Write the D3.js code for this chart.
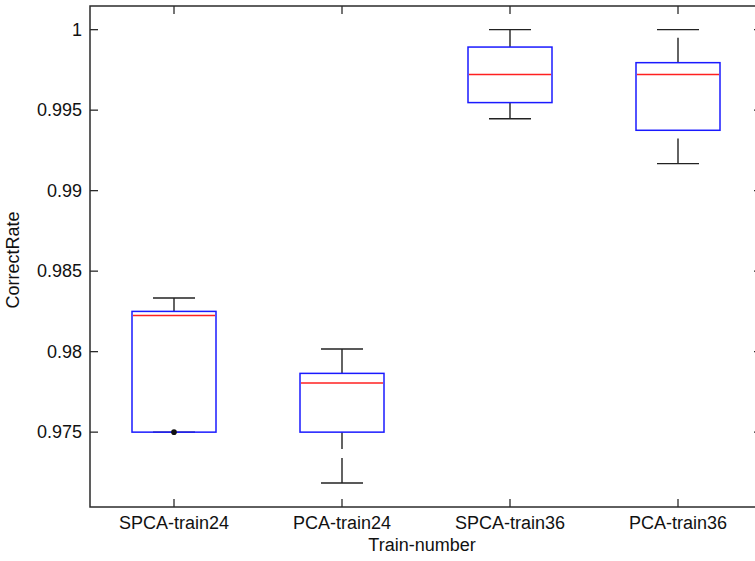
<!DOCTYPE html>
<html>
<head>
<meta charset="utf-8">
<script src="https://cdn.jsdelivr.net/npm/d3@7/dist/d3.min.js"></script>
<style>
  body { margin: 0; background: #fff; }
  svg { display: block; font-family: "Liberation Sans", Arial, sans-serif; }
</style>
</head>
<body>
<svg id="chart" width="755" height="561"></svg>
<script>
// data
var categories = ["SPCA-train24", "PCA-train24", "SPCA-train36", "PCA-train36"];
var whiskerLow = [0.975, 0.97184, 0.99447, 0.99168];
var q1 = [0.975, 0.975, 0.99547, 0.99375];
var medians = [0.98225, 0.97805, 0.99722, 0.99722];
var q3 = [0.9825, 0.97865, 0.99892, 0.99795];
var whiskerHigh = [0.98333, 0.98016, 1.0, 1.0];
var dots = [[0.975], [], [], []];
var yTicks = [0.975, 0.98, 0.985, 0.99, 0.995, 1];
var yTickLabels = ["0.975", "0.98", "0.985", "0.99", "0.995", "1"];

var svg = d3.select("#chart");

// plot frame (right edge runs off the picture)
var plotLeft = 90, plotTop = 6, plotRight = 762, plotBottom = 507;
var axisColor = "#2b2b2b";

var x = d3.scaleLinear().domain([0.5, categories.length + 0.5]).range([plotLeft, plotRight]);
var y = d3.scaleLinear().domain([0.97035, 1.00147]).range([plotBottom, plotTop]);

var boxHalf = 0.25, capHalf = 0.125;

var rows = categories.map(function(c, i) {
    return {name: c, i: i + 1, lo: whiskerLow[i], q1: q1[i], med: medians[i], q3: q3[i], hi: whiskerHigh[i], dots: dots[i]};
});

var g = svg.append("g");

// whiskers, dashed, drawn from low value to high value
rows.forEach(function(d) {
    [[d.lo, d.q1], [d.q3, d.hi]].forEach(function(seg) {
        g.append("line")
            .attr("x1", x(d.i)).attr("x2", x(d.i))
            .attr("y1", y(seg[0])).attr("y2", y(seg[1]))
            .attr("stroke", "#222").attr("stroke-width", 1.4)
            .attr("stroke-dasharray", "25,9");
    });
    // caps
    [d.lo, d.hi].forEach(function(v) {
        g.append("line")
            .attr("x1", x(d.i - capHalf)).attr("x2", x(d.i + capHalf))
            .attr("y1", y(v)).attr("y2", y(v))
            .attr("stroke", "#222").attr("stroke-width", 1.4);
    });
});

// boxes
g.selectAll("rect.box").data(rows).enter().append("rect")
    .attr("class", "box")
    .attr("x", function(d) { return x(d.i - boxHalf); })
    .attr("width", function(d) { return x(d.i + boxHalf) - x(d.i - boxHalf); })
    .attr("y", function(d) { return y(d.q3); })
    .attr("height", function(d) { return y(d.q1) - y(d.q3); })
    .attr("fill", "none")
    .attr("stroke", "#1a1aff").attr("stroke-width", 1.5);

// medians
g.selectAll("line.med").data(rows).enter().append("line")
    .attr("class", "med")
    .attr("x1", function(d) { return x(d.i - boxHalf) + 1; })
    .attr("x2", function(d) { return x(d.i + boxHalf) - 1; })
    .attr("y1", function(d) { return y(d.med); })
    .attr("y2", function(d) { return y(d.med); })
    .attr("stroke", "#ff2020").attr("stroke-width", 1.5);

// dot markers
rows.forEach(function(d) {
    d.dots.forEach(function(v) {
        g.append("circle")
            .attr("cx", x(d.i)).attr("cy", y(v)).attr("r", 2.8)
            .attr("fill", "#111");
    });
});

// frame
svg.append("rect")
    .attr("x", plotLeft).attr("y", plotTop)
    .attr("width", plotRight - plotLeft).attr("height", plotBottom - plotTop)
    .attr("fill", "none").attr("stroke", axisColor).attr("stroke-width", 1.5);

// inward ticks on all sides
var tickLen = 8;
yTicks.forEach(function(v) {
    svg.append("line").attr("x1", plotLeft).attr("x2", plotLeft + tickLen)
        .attr("y1", y(v)).attr("y2", y(v))
        .attr("stroke", axisColor).attr("stroke-width", 1.3);
    svg.append("line").attr("x1", plotRight).attr("x2", plotRight - tickLen)
        .attr("y1", y(v)).attr("y2", y(v))
        .attr("stroke", axisColor).attr("stroke-width", 1.3);
});
rows.forEach(function(d) {
    svg.append("line").attr("x1", x(d.i)).attr("x2", x(d.i))
        .attr("y1", plotBottom).attr("y2", plotBottom - tickLen)
        .attr("stroke", axisColor).attr("stroke-width", 1.3);
    svg.append("line").attr("x1", x(d.i)).attr("x2", x(d.i))
        .attr("y1", plotTop).attr("y2", plotTop + tickLen)
        .attr("stroke", axisColor).attr("stroke-width", 1.3);
});

// tick labels
svg.selectAll("text.ytl").data(yTicks).enter().append("text")
    .attr("class", "ytl")
    .attr("x", plotLeft - 8)
    .attr("y", function(v) { return y(v); })
    .attr("dy", "0.35em")
    .attr("text-anchor", "end")
    .attr("font-size", 18)
    .attr("fill", "#111")
    .text(function(v, i) { return yTickLabels[i]; });

svg.selectAll("text.xtl").data(rows).enter().append("text")
    .attr("class", "xtl")
    .attr("x", function(d) { return x(d.i); })
    .attr("y", 529)
    .attr("text-anchor", "middle")
    .attr("font-size", 18)
    .attr("fill", "#111")
    .text(function(d) { return d.name; });

// axis titles
svg.append("text")
    .attr("x", 422).attr("y", 551)
    .attr("text-anchor", "middle")
    .attr("font-size", 18).attr("fill", "#111")
    .text("Train-number");

svg.append("text")
    .attr("transform", "translate(19,260) rotate(-90)")
    .attr("text-anchor", "middle")
    .attr("font-size", 18).attr("fill", "#111")
    .text("CorrectRate");
</script>
</body>
</html>
